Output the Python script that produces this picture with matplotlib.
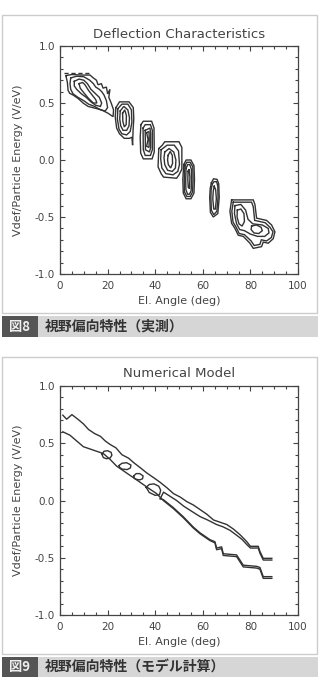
import numpy as np
import matplotlib
matplotlib.use('Agg')
import matplotlib.pyplot as plt
from matplotlib.patches import Rectangle
from matplotlib.ticker import MultipleLocator

plt.rcParams['axes.unicode_minus'] = False

# ---- axes text / ticks
xticks = [0, 20, 40, 60, 80, 100]
xtick_labels = ['0', '20', '40', '60', '80', '100']
yticks = [-1.0, -0.5, 0.0, 0.5, 1.0]
ytick_labels = ['-1.0', '-0.5', '0.0', '0.5', '1.0']
xlabel = 'El. Angle (deg)'
ylabel = 'Vdef/Particle Energy (V/eV)'
title_meas = 'Deflection Characteristics'
title_model = 'Numerical Model'
fig_no = ['図8', '図9']
captions = ['視野偏向特性（実測）', '視野偏向特性（モデル計算）']

# ---- figure 8 : measured contours (El. angle, Vdef/E), one list per peak
blob1 = [
    [[2.5, 5, 9, 12.6, 14, 15.3, 16, 17.4, 18.1, 19.5, 20, 21, 20.5, 21.5, 22.5, 22.3, 20.2, 17.4, 14.6, 11.8, 9.7, 7.6, 5.5, 4.1, 3.4, 3.1, 2.5],
     [0.74, 0.75, 0.745, 0.745, 0.72, 0.70, 0.66, 0.67, 0.63, 0.64, 0.58, 0.62, 0.55, 0.50, 0.44, 0.38, 0.41, 0.44, 0.455, 0.47, 0.50, 0.54, 0.57, 0.585, 0.61, 0.68, 0.74]],
    [[4.5, 7, 10, 12.5, 14, 15, 16.5, 17.5, 18.5, 19.5, 20, 19, 17, 14.5, 12, 10, 7.5, 5.5, 4.5, 4.2, 4.5],
     [0.72, 0.735, 0.73, 0.70, 0.67, 0.64, 0.62, 0.60, 0.57, 0.52, 0.46, 0.43, 0.44, 0.47, 0.49, 0.52, 0.55, 0.58, 0.62, 0.67, 0.72]],
    [[6, 8, 10, 11.5, 13, 14.5, 16.5, 17.5, 17, 15, 13, 11, 9, 7, 6, 6],
     [0.69, 0.71, 0.70, 0.67, 0.62, 0.59, 0.55, 0.50, 0.47, 0.48, 0.51, 0.55, 0.58, 0.62, 0.65, 0.69]],
    [[8, 9.5, 10.5, 12, 13.5, 15, 15.5, 14, 12, 10, 8.5, 8],
     [0.67, 0.68, 0.66, 0.61, 0.57, 0.53, 0.50, 0.50, 0.54, 0.59, 0.63, 0.67]],
]
blob1_dash_x = [1.5, 12.5]
blob1_dash_y = [0.765, 0.765]

blob2 = [
    [[23.5, 25, 29, 30.8, 31, 30.7, 30.5, 30.2, 29.2, 27, 25, 23.8, 23.2, 23.5],
     [0.46, 0.51, 0.51, 0.46, 0.36, 0.26, 0.13, 0.20, 0.19, 0.19, 0.23, 0.28, 0.38, 0.46]],
    [[24.3, 26, 28.5, 30, 30.2, 29.5, 28, 26, 24.8, 24.1, 24.3],
     [0.45, 0.49, 0.49, 0.44, 0.33, 0.25, 0.22, 0.23, 0.27, 0.36, 0.45]],
    [[25.3, 26.8, 28.5, 29.2, 29, 28, 26.5, 25.5, 25.1, 25.3],
     [0.43, 0.47, 0.44, 0.37, 0.30, 0.26, 0.26, 0.30, 0.36, 0.43]],
    [[26.3, 27.2, 27.9, 27.8, 27.0, 26.4, 26.3],
     [0.41, 0.44, 0.39, 0.31, 0.29, 0.34, 0.41]],
]

blob3 = [
    [[34, 35, 38.5, 39.5, 39.6, 38.7, 35, 33.9, 33.7, 34],
     [0.31, 0.34, 0.34, 0.28, 0.07, 0.01, 0.01, 0.06, 0.20, 0.31]],
    [[34.9, 35.8, 38, 38.8, 38.8, 38, 35.8, 35, 34.9],
     [0.28, 0.31, 0.31, 0.26, 0.09, 0.04, 0.04, 0.09, 0.28]],
    [[35.8, 37.8, 38.1, 38.1, 37.6, 35.9, 35.8],
     [0.26, 0.28, 0.23, 0.11, 0.07, 0.09, 0.26]],
    [[36.4, 37.4, 37.5, 37.4, 36.4, 37.0, 36.4],
     [0.24, 0.25, 0.18, 0.11, 0.12, 0.18, 0.24]],
]

blob4 = [
    [[41.5, 43, 44, 50, 51.2, 51.2, 50, 49, 43.5, 42.5, 41.2, 41.5],
     [0.10, 0.13, 0.16, 0.16, 0.11, -0.08, -0.13, -0.16, -0.15, -0.12, -0.06, 0.10]],
    [[42.5, 45, 48, 49.8, 50.2, 49.5, 47.5, 44.5, 42.8, 42.3, 42.5],
     [0.09, 0.13, 0.13, 0.08, -0.04, -0.10, -0.13, -0.12, -0.07, 0.01, 0.09]],
    [[44, 45.8, 47.8, 48.7, 48.5, 47.2, 45.2, 44, 43.7, 44],
     [0.07, 0.10, 0.07, 0.0, -0.07, -0.10, -0.09, -0.04, 0.02, 0.07]],
    [[45.4, 46.3, 47.2, 47.3, 46.5, 45.5, 45.2, 45.4],
     [0.04, 0.075, 0.04, -0.03, -0.07, -0.04, 0.0, 0.04]],
]

blob5 = [
    [[52, 53, 55, 56.3, 56.5, 56.3, 55, 53, 51.8, 51.6, 52],
     [-0.04, 0.0, 0.0, -0.05, -0.17, -0.29, -0.34, -0.34, -0.29, -0.17, -0.04]],
    [[52.5, 53.3, 54.7, 55.8, 55.9, 55.7, 54.7, 53.3, 52.3, 52.2, 52.5],
     [-0.05, -0.02, -0.02, -0.06, -0.17, -0.28, -0.32, -0.32, -0.28, -0.17, -0.05]],
    [[53, 53.7, 54.5, 55.2, 55.3, 55.1, 54.4, 53.6, 52.9, 52.8, 53],
     [-0.07, -0.04, -0.04, -0.08, -0.17, -0.27, -0.30, -0.30, -0.26, -0.17, -0.07]],
    [[53.8, 54.2, 54.6, 54.4, 53.9, 53.7, 53.8],
     [-0.10, -0.08, -0.15, -0.25, -0.24, -0.17, -0.10]],
]

blob6 = [
    [[63.6, 64.5, 66, 66.7, 66.9, 66.3, 64.4, 63.2, 62.9, 63.1, 63.6],
     [-0.20, -0.165, -0.17, -0.21, -0.33, -0.47, -0.50, -0.46, -0.33, -0.25, -0.20]],
    [[64, 64.7, 65.8, 66.3, 66.4, 65.9, 64.6, 63.6, 63.4, 63.5, 64],
     [-0.21, -0.19, -0.19, -0.23, -0.33, -0.45, -0.48, -0.44, -0.33, -0.26, -0.21]],
    [[64.8, 65.4, 65.7, 65.3, 64.6, 64.2, 64.4, 64.8],
     [-0.23, -0.26, -0.34, -0.43, -0.43, -0.34, -0.27, -0.23]],
]

blob7 = [
    [[72.1, 81.2, 81.9, 82.6, 86.8, 88.9, 90.3, 89.6, 87.5, 85.4, 84.7, 81.2, 79.8, 77, 74.9, 73.5, 72.1, 71.4, 72.1],
     [-0.35, -0.35, -0.39, -0.51, -0.53, -0.57, -0.63, -0.69, -0.73, -0.72, -0.76, -0.775, -0.73, -0.67, -0.66, -0.60, -0.555, -0.45, -0.35]],
    [[72.8, 80.5, 81.2, 81.8, 86.2, 88.2, 89.5, 88.8, 86.8, 84.6, 84, 81.6, 80.3, 77.5, 75.3, 74, 72.7, 72.2, 72.8],
     [-0.37, -0.37, -0.41, -0.53, -0.55, -0.59, -0.63, -0.68, -0.71, -0.70, -0.74, -0.75, -0.71, -0.655, -0.645, -0.59, -0.545, -0.45, -0.37]],
    [[73.5, 76, 78, 79, 81, 85, 87.5, 87.8, 86, 83, 80, 77.5, 75.5, 74.2, 73.3, 73.5],
     [-0.40, -0.39, -0.44, -0.52, -0.56, -0.57, -0.60, -0.64, -0.67, -0.67, -0.65, -0.62, -0.61, -0.56, -0.47, -0.40]],
    [[74.5, 76, 77.3, 77.5, 76.5, 75.2, 74.4, 74.5],
     [-0.44, -0.43, -0.47, -0.54, -0.58, -0.56, -0.50, -0.44]],
    [[80.5, 82.5, 84.5, 85, 83.5, 81.5, 80.3, 80.5],
     [-0.58, -0.57, -0.59, -0.62, -0.645, -0.64, -0.61, -0.58]],
]

meas_blobs = [blob1, blob2, blob3, blob4, blob5, blob6, blob7]

# ---- figure 9 : model contours
upper_x = [1.2, 2.8, 5.0, 7.5, 9.8, 12.0, 14.5, 17.0, 19.0, 21.0, 23.5, 26.0, 28.8, 31.0, 33.5, 36.5, 39.3, 42.0,
           45.0, 47.7, 50.5, 53.3, 56.1, 58.9, 61.7, 64.5, 67.3, 70.1, 72.9, 75.7, 78.5, 80.0, 83.3, 84.0, 85.4, 89.0]
upper_y = [0.745, 0.71, 0.75, 0.71, 0.67, 0.62, 0.585, 0.56, 0.52, 0.49, 0.46, 0.40, 0.37, 0.33, 0.29, 0.24, 0.20, 0.16,
           0.11, 0.06, 0.03, -0.01, -0.04, -0.08, -0.12, -0.17, -0.19, -0.21, -0.25, -0.30, -0.36, -0.40, -0.40, -0.445, -0.505, -0.505]

lower_x = [1.2, 4.2, 7.0, 9.8, 12.6, 15.4, 18.2, 21.0, 23.8, 26.6, 29.4, 33.6, 37.0, 40.6, 43.4, 47.6, 51.8, 56.0,
           58.8, 63.0, 65.1, 65.8, 67.9, 68.6, 74.2, 77.0, 82.6, 84.0, 85.4, 89.0]
lower_y = [0.60, 0.57, 0.52, 0.47, 0.45, 0.43, 0.41, 0.36, 0.30, 0.26, 0.22, 0.16, 0.11, 0.06, 0.0, -0.07, -0.15, -0.24,
           -0.29, -0.35, -0.37, -0.43, -0.42, -0.48, -0.49, -0.58, -0.59, -0.60, -0.68, -0.68]

inner_top_x = [42.1, 43.5, 46, 49, 52, 55, 58.8, 62, 65.8, 68.5, 71.4, 74, 76.5, 78.5, 80, 83.3, 84.0, 85.4, 89.0]
inner_top_y = [0.015, 0.073, 0.04, 0.0, -0.05, -0.09, -0.14, -0.17, -0.21, -0.23, -0.26, -0.30, -0.34, -0.385, -0.415,
               -0.415, -0.46, -0.52, -0.52]

inner_bot_x = [42.1, 43.4, 47.6, 51.8, 56.0, 58.8, 63.0, 65.1, 65.8, 67.9, 68.6, 74.2, 77.0, 82.6, 84.0, 85.4, 89.0]
inner_bot_y = [0.015, 0.008, -0.062, -0.142, -0.232, -0.282, -0.342, -0.36, -0.415, -0.405, -0.465, -0.475, -0.565,
               -0.575, -0.585, -0.665, -0.665]

islands = [
    [[17.6, 18.5, 20, 21.5, 21.8, 21, 19.5, 18.2, 17.6],
     [0.405, 0.43, 0.435, 0.42, 0.395, 0.37, 0.365, 0.375, 0.405]],
    [[24.8, 26, 28, 29.8, 29.6, 28.2, 26, 25, 24.8],
     [0.305, 0.325, 0.33, 0.31, 0.285, 0.27, 0.275, 0.29, 0.305]],
    [[31, 32, 33.5, 34.9, 34.7, 33.5, 32, 31.2, 31],
     [0.215, 0.235, 0.235, 0.215, 0.19, 0.18, 0.185, 0.195, 0.215]],
    [[36.2, 37.5, 39.5, 41.5, 42.3, 41.8, 40, 37.5, 36.2],
     [0.115, 0.14, 0.145, 0.125, 0.09, 0.05, 0.045, 0.07, 0.115]],
]

LINE = '#333333'
TXT = '#444444'
W, H = 320, 688


def setup_axes(ax, title):
    ax.set_xlim(0, 100)
    ax.set_ylim(-1.0, 1.0)
    ax.set_xticks(xticks)
    ax.set_xticklabels(xtick_labels)
    ax.set_yticks(yticks)
    ax.set_yticklabels(ytick_labels)
    ax.xaxis.set_minor_locator(MultipleLocator(5))
    ax.yaxis.set_minor_locator(MultipleLocator(0.1))
    ax.tick_params(which='both', direction='in', top=True, right=True,
                   color=TXT, width=0.8, labelcolor=TXT, labelsize=7.5)
    ax.tick_params(which='major', length=3.6)
    ax.tick_params(which='minor', length=2.2)
    ax.tick_params(axis='x', pad=5)
    ax.tick_params(axis='y', pad=3.5)
    for s in ax.spines.values():
        s.set_color(TXT)
        s.set_linewidth(0.9)
    ax.text(0.5, 1 + 12 / 228, title, transform=ax.transAxes, ha='center', va='center',
            fontsize=9.5, color=TXT)
    ax.text(0.5, -27 / 228, xlabel, transform=ax.transAxes, ha='center', va='center',
            fontsize=8, color=TXT)
    ax.text(-42 / 238, 0.5, ylabel, transform=ax.transAxes, ha='center', va='center',
            rotation=90, fontsize=8, color=TXT)


def panel_frame(fig, top, bottom, cap_top, cap_bot, no, cap):
    fig.add_artist(Rectangle((2 / W, 1 - bottom / H), 315 / W, (bottom - top) / H,
                             transform=fig.transFigure, fill=False, ec='#cccccc', lw=1.0))
    fig.add_artist(Rectangle((2 / W, 1 - cap_bot / H), 36 / W, (cap_bot - cap_top) / H,
                             transform=fig.transFigure, fc='#555555', ec='none'))
    fig.add_artist(Rectangle((38 / W, 1 - cap_bot / H), 280 / W, (cap_bot - cap_top) / H,
                             transform=fig.transFigure, fc='#d6d6d6', ec='none'))
    cy = 1 - (cap_top + cap_bot) / 2 / H
    fig.text(20 / W, cy, no, ha='center', va='center', fontsize=9.5, color='#eeeeee',
             fontweight='bold', family=['Noto Sans CJK JP', 'DejaVu Sans'])
    fig.text(45 / W, cy, cap, ha='left', va='center', fontsize=10, color='#333333',
             fontweight='bold', family=['Noto Sans CJK JP', 'DejaVu Sans'])


fig = plt.figure(figsize=(3.2, 6.88), dpi=100)
fig.patch.set_facecolor('white')

# figure 8
ax1 = fig.add_axes([60 / W, 1 - 274 / H, 238 / W, 228 / H])
setup_axes(ax1, title_meas)
for blob in meas_blobs:
    for cx, cy in blob:
        ax1.plot(cx, cy, color=LINE, lw=1.0, solid_joinstyle='miter')
ax1.plot(blob1_dash_x, blob1_dash_y, color=LINE, lw=1.0, ls=(0, (3, 2)))
panel_frame(fig, 15, 313, 316, 337, fig_no[0], captions[0])

# figure 9
ax2 = fig.add_axes([60 / W, 1 - 615 / H, 238 / W, 229 / H])
setup_axes(ax2, title_model)
ax2.plot(upper_x, upper_y, color=LINE, lw=1.0)
ax2.plot(lower_x, lower_y, color=LINE, lw=1.0)
ax2.plot(inner_top_x, inner_top_y, color=LINE, lw=1.0)
ax2.plot(inner_bot_x, inner_bot_y, color=LINE, lw=1.0)
for cx, cy in islands:
    ax2.plot(cx, cy, color=LINE, lw=1.0)
panel_frame(fig, 357, 654, 657, 677, fig_no[1], captions[1])

fig.savefig('out.png', dpi=100)
